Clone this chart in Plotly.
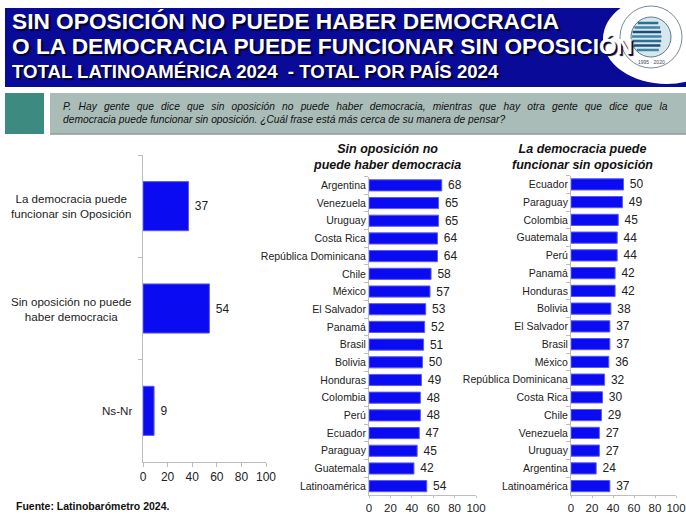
import plotly.graph_objects as go

W, H = 686, 514

# Total Latinoamérica
total_labels = ["La democracia puede<br>funcionar sin Oposición",
                "Sin oposición no puede<br>haber democracia",
                "Ns-Nr"]
total_values = [37, 54, 9]

# Sin oposición no puede haber democracia, por país
sin_countries = ["Argentina", "Venezuela", "Uruguay", "Costa Rica", "República Dominicana",
                 "Chile", "México", "El Salvador", "Panamá", "Brasil", "Bolivia", "Honduras",
                 "Colombia", "Perú", "Ecuador", "Paraguay", "Guatemala", "Latinoamérica"]
sin_values = [68, 65, 65, 64, 64, 58, 57, 53, 52, 51, 50, 49, 48, 48, 47, 45, 42, 54]

# La democracia puede funcionar sin oposición, por país
fun_countries = ["Ecuador", "Paraguay", "Colombia", "Guatemala", "Perú", "Panamá", "Honduras",
                 "Bolivia", "El Salvador", "Brasil", "México", "República Dominicana",
                 "Costa Rica", "Chile", "Venezuela", "Uruguay", "Argentina", "Latinoamérica"]
fun_values = [50, 49, 45, 44, 44, 42, 42, 38, 37, 37, 36, 32, 30, 29, 27, 27, 24, 37]

x_ticks = [0, 20, 40, 60, 80, 100]

BAR = "#0B0BF2"
BAR_EDGE = "#5A5AF8"
AXIS = "#BDBDBD"
FONT = "Liberation Sans, Arial, sans-serif"


def px_x(p):
    return p / W


def px_y(p):
    return 1 - p / H


fig = go.Figure()


def add_bars(values, cats, xa, ya, width=None):
    fig.add_trace(go.Bar(
        x=values, y=cats, orientation="h", xaxis=xa, yaxis=ya, width=width,
        marker=dict(color=BAR, line=dict(color=BAR_EDGE, width=1)),
        texttemplate=" %{x}", textposition="outside", cliponaxis=False,
        constraintext="none",
        textfont=dict(size=12, color="#222", family=FONT), hoverinfo="skip",
    ))


add_bars(total_values, total_labels, "x", "y", width=0.48)
add_bars(sin_values, sin_countries, "x2", "y2")
add_bars(fun_values, fun_countries, "x3", "y3")

xcommon = dict(range=[0, 100], tickvals=x_ticks, showgrid=False, zeroline=False,
               automargin=False,
               showline=True, linecolor=AXIS, linewidth=1, ticks="outside", ticklen=4,
               tickcolor=AXIS, tickfont=dict(size=12, color="#222", family=FONT))
ycommon = dict(type="category", autorange="reversed", showgrid=False, zeroline=False,
               automargin=False,
               showline=True, linecolor=AXIS, linewidth=1, ticks="outside", ticklen=4,
               tickcolor=AXIS, tickson="boundaries",
               tickfont=dict(size=10.5, color="#222", family=FONT))
xcountry = dict(xcommon, ticklen=2, tickfont=dict(size=11.5, color="#222", family=FONT))

fig.update_layout(
    width=W, height=H, margin=dict(l=0, r=0, t=0, b=0, autoexpand=False),
    paper_bgcolor="white", plot_bgcolor="rgba(0,0,0,0)",
    showlegend=False, bargap=0.37,
    font=dict(family=FONT),
    xaxis=dict(domain=[px_x(143), px_x(266)], anchor="y", **xcommon),
    yaxis=dict(domain=[px_y(462), px_y(155)], anchor="x", showticklabels=False,
               **{k: v for k, v in ycommon.items() if k != "tickfont"}),
    xaxis2=dict(domain=[px_x(369), px_x(476)], anchor="y2", **xcountry),
    yaxis2=dict(domain=[px_y(495), px_y(176.5)], anchor="x2", **ycommon),
    xaxis3=dict(domain=[px_x(571), px_x(676)], anchor="y3", **xcountry),
    yaxis3=dict(domain=[px_y(495), px_y(175.5)], anchor="x3", **ycommon),
)

shapes = []
# Header band with white oval on the right
shapes.append(dict(type="rect", xref="paper", yref="paper", layer="below",
                   x0=px_x(5), x1=px_x(686), y0=px_y(87), y1=px_y(8),
                   fillcolor="#0A0A98", line=dict(width=0)))
shapes.append(dict(type="circle", xref="paper", yref="paper", layer="below",
                   x0=px_x(603), x1=px_x(730), y0=px_y(84), y1=px_y(-6),
                   fillcolor="white", line=dict(width=0)))
shapes.append(dict(type="rect", xref="paper", yref="paper", layer="below",
                   x0=px_x(686), x1=px_x(700), y0=px_y(87), y1=px_y(0),
                   fillcolor="white", line=dict(width=0)))
# Logo emblem
cx, cy, r = 651, 37, 31
shapes.append(dict(type="circle", xref="paper", yref="paper",
                   x0=px_x(cx - r), x1=px_x(cx + r), y0=px_y(cy + r), y1=px_y(cy - r),
                   fillcolor="white", line=dict(color="#7A8A96", width=1)))
ri = 20
shapes.append(dict(type="circle", xref="paper", yref="paper",
                   x0=px_x(cx - ri), x1=px_x(cx + ri), y0=px_y(cy + ri), y1=px_y(cy - ri),
                   fillcolor="#D8E6EE", line=dict(color="#5C7C90", width=1)))
stripe_cols = ["#2E6E8E", "#3C88A4", "#1F4F78", "#3C88A4", "#2E6E8E", "#1F4F78", "#3C88A4"]
for i, col in enumerate(stripe_cols):
    yy = cy - 14 + i * 4.5
    half = (ri ** 2 - (yy - cy) ** 2) ** 0.5 - 1
    shapes.append(dict(type="line", xref="paper", yref="paper",
                       x0=px_x(cx - half), x1=px_x(cx + half * 0.55), y0=px_y(yy), y1=px_y(yy),
                       line=dict(color=col, width=2.5)))
# Question box
shapes.append(dict(type="rect", xref="paper", yref="paper", layer="below",
                   x0=px_x(5), x1=px_x(44), y0=px_y(134), y1=px_y(93),
                   fillcolor="#3D8A80", line=dict(width=0)))
shapes.append(dict(type="rect", xref="paper", yref="paper", layer="below",
                   x0=px_x(50), x1=px_x(686), y0=px_y(134), y1=px_y(93),
                   fillcolor="#A9BCB8", line=dict(width=0)))
shapes.append(dict(type="line", xref="paper", yref="paper", layer="below",
                   x0=px_x(50), x1=px_x(686), y0=px_y(134), y1=px_y(134),
                   line=dict(color="#8A9C98", width=1.5)))
fig.update_layout(shapes=shapes)

ann = []
shadow = "2px 2px 1px #00002a"
header = [("SIN OPOSICIÓN NO PUEDE HABER DEMOCRACIA", 22.7, 21),
          ("O LA DEMOCRACIA PUEDE FUNCIONAR SIN OPOSICIÓN", 22.7, 46),
          ("TOTAL LATINOAMÉRICA 2024  - TOTAL POR PAÍS 2024", 18.6, 72)]
for txt, size, yc in header:
    ann.append(dict(text=f"<b>{txt}</b>", xref="paper", yref="paper",
                    x=px_x(10), y=px_y(yc), xanchor="left", yanchor="middle",
                    showarrow=False,
                    font=dict(size=size, color="white", family=FONT, shadow=shadow)))

# First line of the question is justified: widen the word gaps
gap = "\u2002\u2009"
q1 = "P. Hay gente que dice que sin oposición no puede haber democracia, mientras que hay otra gente que dice que la"
q2 = "democracia puede funcionar sin oposición. ¿Cuál frase está más cerca de su manera de pensar?"
ann.append(dict(text=f"<i>{q1.replace(' ', gap)}<br>{q2}</i>",
                xref="paper", yref="paper", x=px_x(61), y=px_y(113), xanchor="left",
                yanchor="middle", align="left", showarrow=False,
                font=dict(size=10.25, color="#111", family=FONT)))
ann.append(dict(text="<b><i>Sin oposición no<br>puede haber democracia</i></b>", xref="paper",
                yref="paper", x=px_x(387), y=px_y(156.5), xanchor="center", yanchor="middle",
                showarrow=False, font=dict(size=12.5, color="#111", family=FONT)))
ann.append(dict(text="<b><i>La democracia puede<br>funcionar sin oposición</i></b>", xref="paper",
                yref="paper", x=px_x(582), y=px_y(156.5), xanchor="center", yanchor="middle",
                showarrow=False, font=dict(size=12.5, color="#111", family=FONT)))
for lab in total_labels:
    ann.append(dict(text=lab, xref="paper", yref="y", x=px_x(134), y=lab,
                    xanchor="right", yanchor="middle", align="center", showarrow=False,
                    font=dict(size=11.6, color="#222", family=FONT)))
ann.append(dict(text="<b>Fuente: Latinobarómetro 2024.</b>", xref="paper", yref="paper",
                x=px_x(14), y=px_y(506), xanchor="left", yanchor="middle", showarrow=False,
                font=dict(size=10.5, color="#111", family=FONT)))
ann.append(dict(text="1995 · 2020", xref="paper", yref="paper", x=px_x(cx), y=px_y(cy + 25),
                xanchor="center", yanchor="middle", showarrow=False,
                font=dict(size=5, color="#445", family=FONT)))
fig.update_layout(annotations=ann)

fig.write_html("out.html")
